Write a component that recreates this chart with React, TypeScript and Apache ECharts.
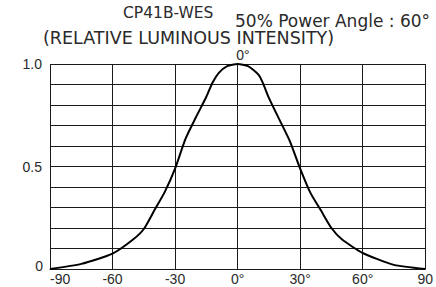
import React, { useEffect, useRef } from "react";
import * as echarts from "echarts";

const angles = [-90, -75, -60, -50, -45, -40, -35, -30, -25, -20, -15, -12, -9, -5, 0, 5, 10, 12, 15, 20, 25, 30, 35, 40, 45, 50, 60, 75, 90];
const intensity = [0, 0.025, 0.075, 0.145, 0.195, 0.285, 0.375, 0.49, 0.635, 0.74, 0.84, 0.91, 0.957, 0.99, 1.0, 0.99, 0.948, 0.91, 0.835, 0.73, 0.625, 0.49, 0.37, 0.285, 0.2, 0.145, 0.078, 0.02, 0];
const xTickLabels: Record<string, string> = { "-90": "-90", "-60": "-60", "-30": "-30", "0": "0°", "30": "30°", "60": "60°", "90": "90" };
const yTickLabels: Record<string, string> = { "0.5": "0.5", "1": "1.0" };
const yZeroLabel = "0";
const title = "CP41B-WES";
const subtitle = "(RELATIVE LUMINOUS INTENSITY)";
const powerAngle = "50% Power Angle : 60°";

const FONT = "'DejaVu Sans', sans-serif";
const TICKFONT = "'Liberation Sans', 'DejaVu Sans', sans-serif";
const TEXT = "#2a2a2a";

export default function App() {
  const ref = useRef<HTMLDivElement>(null);
  useEffect(() => {
    if (!ref.current) return;
    const chart = echarts.init(ref.current, undefined, { renderer: "svg" });
    chart.setOption({
      animation: false,
      backgroundColor: "#ffffff",
      grid: { left: 50, right: 3, top: 64, bottom: 18 },
      xAxis: {
        type: "value",
        min: -90,
        max: 90,
        interval: 30,
        axisLine: { show: true, lineStyle: { color: "#1a1a1a", width: 1 } },
        axisTick: { show: false },
        splitLine: { show: true, lineStyle: { color: "#1a1a1a", width: 1 } },
        axisLabel: {
          margin: 3,
          color: TEXT,
          fontFamily: TICKFONT,
          fontSize: 14,
          alignMinLabel: "left",
          formatter: (v: number) => xTickLabels[String(v)] ?? "",
        },
      },
      yAxis: {
        type: "value",
        min: 0,
        max: 1,
        interval: 0.1,
        axisLine: { show: true, lineStyle: { color: "#1a1a1a", width: 1 } },
        axisTick: { show: false },
        splitLine: { show: true, lineStyle: { color: "#1a1a1a", width: 1 } },
        axisLabel: {
          margin: 8,
          color: TEXT,
          fontFamily: TICKFONT,
          fontSize: 14,
          formatter: (v: number) => {
            const k = String(Math.round(v * 10) / 10);
            return yTickLabels[k] ?? "";
          },
        },
      },
      graphic: [
        { type: "text", x: 123, y: 13, style: { text: title, font: `15.5px ${FONT}`, fill: TEXT, verticalAlign: "middle" } },
        { type: "text", x: 235, y: 21, style: { text: powerAngle, font: `17px ${FONT}`, fill: TEXT, verticalAlign: "middle" } },
        { type: "text", x: 43, y: 38, style: { text: subtitle, font: `17.5px ${FONT}`, fill: TEXT, verticalAlign: "middle" } },
        { type: "text", x: 243, y: 55, style: { text: "0°", font: `14px ${TICKFONT}`, fill: TEXT, align: "center", verticalAlign: "middle" } },
        { type: "text", x: 43, y: 266, style: { text: yZeroLabel, font: `14px ${TICKFONT}`, fill: TEXT, align: "right", verticalAlign: "middle" } },
      ],
      series: [
        {
          type: "line",
          data: angles.map((a, i) => [a, intensity[i]]),
          showSymbol: false,
          smooth: 0.2,
          lineStyle: { color: "#000", width: 2 },
        },
      ],
    });
    return () => chart.dispose();
  }, []);
  return <div ref={ref} style={{ width: 436, height: 287, position: "fixed", left: 0, top: 0 }} />;
}
